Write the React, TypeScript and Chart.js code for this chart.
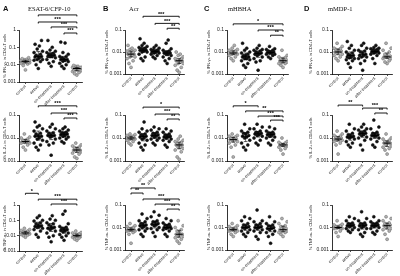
import React, { useEffect, useRef } from "react";
import { Chart, registerables } from "chart.js";
Chart.register(...registerables);
Chart.defaults.font.family = "'Liberation Sans', Arial, sans-serif";

// ---------- labels ----------
const groupLabels = ["control", "active", "on-treatment", "after-treatment", "control"];
const controlGroups = [0, 4];
const antigenTitles = ["ESAT-6/CFP-10", "Acr", "mHBHA", "mMDP-1"];
const panelLetters = ["A", "B", "C", "D"];
const cytokineAxisTitles = ["% IFN-γ+ in CD4+T cells", "% IL-2+ in CD4+T cells", "% TNF-α+ in CD4+T cells"];
const yTickValues = [0.001, 0.01, 0.1, 1];
const yTickLabels = ["0.001", "0.01", "0.1", "1"];
const yMinAll = 0.001;
const yMaxByRow = [
  [1, 0.1, 0.1, 0.1],
  [0.1, 0.1, 0.1, 0.1],
  [1, 0.1, 0.1, 0.1],
];

// ---------- data (% positive cells), one list per group ----------
const ifnEsat = [
  [0.015, 0.018, 0.012, 0.02, 0.016, 0.013, 0.022, 0.017, 0.011, 0.014, 0.019, 0.009, 0.016, 0.025, 0.013, 0.005, 0.015, 0.018],
  [0.03, 0.05, 0.02, 0.12, 0.25, 0.04, 0.025, 0.08, 0.015, 0.03, 0.01, 0.006, 0.035, 0.06, 0.02, 0.028, 0.15, 0.018],
  [0.035, 0.05, 0.03, 0.25, 0.1, 0.04, 0.02, 0.07, 0.015, 0.03, 0.012, 0.045, 0.03, 0.06, 0.025, 0.038, 0.008],
  [0.02, 0.03, 0.015, 0.18, 0.2, 0.025, 0.012, 0.05, 0.01, 0.02, 0.008, 0.006, 0.03, 0.018, 0.022, 0.04, 0.016],
  [0.006, 0.005, 0.008, 0.004, 0.007, 0.006, 0.005, 0.009, 0.003, 0.006, 0.0045, 0.007, 0.0035, 0.005, 0.008, 0.006, 0.0025],
];
const ifnAcr = [
  [0.008, 0.01, 0.006, 0.015, 0.02, 0.009, 0.005, 0.012, 0.007, 0.004, 0.008, 0.011, 0.003, 0.006, 0.009, 0.013, 0.002],
  [0.012, 0.015, 0.01, 0.04, 0.02, 0.013, 0.008, 0.025, 0.006, 0.012, 0.004, 0.016, 0.01, 0.018, 0.005, 0.014, 0.011],
  [0.01, 0.012, 0.009, 0.02, 0.015, 0.011, 0.008, 0.013, 0.007, 0.01, 0.005, 0.012, 0.009, 0.016, 0.006, 0.011],
  [0.009, 0.01, 0.008, 0.035, 0.025, 0.011, 0.006, 0.012, 0.004, 0.009, 0.003, 0.01, 0.008, 0.014, 0.005, 0.007],
  [0.004, 0.005, 0.003, 0.01, 0.006, 0.004, 0.0025, 0.005, 0.002, 0.004, 0.0015, 0.007, 0.003, 0.0045, 0.0012, 0.0035, 0.008],
];
const ifnHbha = [
  [0.009, 0.011, 0.008, 0.015, 0.02, 0.01, 0.007, 0.012, 0.006, 0.009, 0.005, 0.013, 0.008, 0.01, 0.009, 0.004],
  [0.006, 0.008, 0.005, 0.025, 0.012, 0.007, 0.004, 0.01, 0.003, 0.006, 0.002, 0.015, 0.0045, 0.009, 0.0025, 0.007, 0.005],
  [0.008, 0.01, 0.007, 0.02, 0.015, 0.009, 0.005, 0.012, 0.004, 0.008, 0.0015, 0.011, 0.006, 0.013, 0.0035, 0.009],
  [0.009, 0.011, 0.008, 0.018, 0.014, 0.01, 0.007, 0.012, 0.006, 0.009, 0.005, 0.013, 0.008, 0.01, 0.0095],
  [0.004, 0.005, 0.0035, 0.012, 0.006, 0.0045, 0.003, 0.005, 0.0025, 0.004, 0.002, 0.007, 0.0035, 0.0055, 0.003],
];
const ifnMdp = [
  [0.01, 0.012, 0.008, 0.025, 0.015, 0.011, 0.006, 0.013, 0.005, 0.009, 0.004, 0.018, 0.007, 0.01, 0.014],
  [0.006, 0.008, 0.005, 0.03, 0.015, 0.007, 0.004, 0.01, 0.003, 0.006, 0.002, 0.012, 0.0045, 0.009, 0.0055, 0.007, 0.02],
  [0.007, 0.009, 0.006, 0.025, 0.012, 0.008, 0.004, 0.011, 0.003, 0.007, 0.0015, 0.015, 0.005, 0.01, 0.006, 0.02],
  [0.01, 0.012, 0.009, 0.02, 0.015, 0.011, 0.007, 0.013, 0.005, 0.01, 0.003, 0.014, 0.008, 0.016, 0.011, 0.009],
  [0.006, 0.007, 0.005, 0.025, 0.012, 0.006, 0.004, 0.008, 0.0035, 0.006, 0.003, 0.01, 0.005, 0.0065, 0.015],
];
const il2Esat = [
  [0.007, 0.008, 0.006, 0.015, 0.01, 0.007, 0.005, 0.009, 0.004, 0.007, 0.003, 0.008, 0.006, 0.011, 0.0065],
  [0.012, 0.015, 0.01, 0.05, 0.03, 0.013, 0.006, 0.02, 0.004, 0.012, 0.003, 0.025, 0.008, 0.016, 0.005, 0.035, 0.009],
  [0.013, 0.016, 0.011, 0.04, 0.025, 0.014, 0.007, 0.02, 0.005, 0.013, 0.0018, 0.03, 0.009, 0.017, 0.006, 0.012],
  [0.014, 0.016, 0.012, 0.03, 0.02, 0.015, 0.009, 0.018, 0.007, 0.013, 0.006, 0.022, 0.01, 0.017, 0.011, 0.025],
  [0.003, 0.0035, 0.0025, 0.006, 0.005, 0.003, 0.002, 0.004, 0.0015, 0.003, 0.0013, 0.0045, 0.0028, 0.0038, 0.0022],
];
const il2Acr = [
  [0.01, 0.011, 0.009, 0.015, 0.013, 0.01, 0.007, 0.012, 0.006, 0.009, 0.005, 0.011, 0.008, 0.014, 0.0095],
  [0.012, 0.014, 0.01, 0.05, 0.025, 0.013, 0.006, 0.018, 0.004, 0.011, 0.003, 0.02, 0.008, 0.015, 0.005, 0.009],
  [0.013, 0.015, 0.011, 0.03, 0.022, 0.014, 0.008, 0.018, 0.006, 0.012, 0.005, 0.025, 0.01, 0.016, 0.009],
  [0.011, 0.013, 0.01, 0.025, 0.02, 0.012, 0.007, 0.015, 0.005, 0.011, 0.004, 0.018, 0.009, 0.014, 0.008],
  [0.005, 0.006, 0.004, 0.012, 0.008, 0.005, 0.003, 0.007, 0.0025, 0.005, 0.0015, 0.009, 0.004, 0.0065, 0.0035, 0.0012],
];
const il2Hbha = [
  [0.008, 0.01, 0.007, 0.015, 0.012, 0.009, 0.005, 0.011, 0.004, 0.008, 0.0015, 0.013, 0.006, 0.01, 0.0085],
  [0.012, 0.015, 0.01, 0.04, 0.02, 0.013, 0.006, 0.018, 0.004, 0.011, 0.003, 0.025, 0.008, 0.016, 0.005],
  [0.015, 0.018, 0.013, 0.04, 0.025, 0.016, 0.008, 0.02, 0.006, 0.014, 0.005, 0.03, 0.01, 0.017, 0.012],
  [0.014, 0.016, 0.012, 0.03, 0.02, 0.015, 0.008, 0.018, 0.006, 0.013, 0.005, 0.025, 0.01, 0.017, 0.011],
  [0.005, 0.0055, 0.0045, 0.01, 0.007, 0.005, 0.004, 0.006, 0.003, 0.005, 0.002, 0.0065, 0.0048, 0.0052, 0.0035],
];
const il2Mdp = [
  [0.009, 0.011, 0.008, 0.02, 0.015, 0.01, 0.006, 0.012, 0.005, 0.009, 0.002, 0.013, 0.007, 0.01, 0.008],
  [0.011, 0.013, 0.01, 0.04, 0.02, 0.012, 0.007, 0.016, 0.005, 0.011, 0.004, 0.025, 0.009, 0.014, 0.006],
  [0.015, 0.018, 0.013, 0.04, 0.025, 0.016, 0.008, 0.02, 0.005, 0.014, 0.003, 0.03, 0.01, 0.017, 0.011, 0.022],
  [0.013, 0.015, 0.012, 0.06, 0.03, 0.014, 0.007, 0.018, 0.005, 0.012, 0.004, 0.025, 0.009, 0.016, 0.01],
  [0.006, 0.007, 0.005, 0.015, 0.01, 0.006, 0.004, 0.008, 0.003, 0.006, 0.002, 0.009, 0.0045, 0.0065, 0.0035],
];
const tnfEsat = [
  [0.015, 0.018, 0.013, 0.03, 0.022, 0.016, 0.01, 0.02, 0.008, 0.014, 0.012, 0.025, 0.017, 0.015, 0.011],
  [0.04, 0.05, 0.035, 0.2, 0.1, 0.045, 0.02, 0.07, 0.012, 0.04, 0.008, 0.15, 0.03, 0.06, 0.025, 0.09],
  [0.03, 0.04, 0.025, 0.2, 0.1, 0.035, 0.015, 0.06, 0.01, 0.03, 0.004, 0.12, 0.02, 0.05, 0.008, 0.07],
  [0.025, 0.03, 0.02, 0.4, 0.25, 0.028, 0.012, 0.04, 0.008, 0.022, 0.005, 0.06, 0.015, 0.035, 0.018, 0.01],
  [0.01, 0.012, 0.009, 0.02, 0.015, 0.011, 0.007, 0.013, 0.006, 0.01, 0.005, 0.016, 0.008, 0.012, 0.009],
];
const tnfAcr = [
  [0.008, 0.009, 0.007, 0.015, 0.012, 0.008, 0.006, 0.01, 0.005, 0.008, 0.002, 0.011, 0.007, 0.009, 0.0075],
  [0.012, 0.014, 0.01, 0.04, 0.025, 0.013, 0.007, 0.018, 0.005, 0.011, 0.004, 0.02, 0.009, 0.015, 0.008],
  [0.014, 0.017, 0.012, 0.05, 0.03, 0.015, 0.008, 0.02, 0.006, 0.013, 0.004, 0.035, 0.01, 0.018, 0.009],
  [0.01, 0.012, 0.009, 0.025, 0.02, 0.011, 0.007, 0.014, 0.005, 0.01, 0.004, 0.016, 0.008, 0.013, 0.009],
  [0.005, 0.006, 0.004, 0.02, 0.01, 0.005, 0.003, 0.007, 0.0025, 0.005, 0.002, 0.012, 0.004, 0.008, 0.0035],
];
const tnfHbha = [
  [0.008, 0.009, 0.007, 0.015, 0.012, 0.008, 0.006, 0.01, 0.005, 0.008, 0.004, 0.011, 0.007, 0.009, 0.0085],
  [0.01, 0.012, 0.009, 0.03, 0.02, 0.011, 0.006, 0.015, 0.004, 0.01, 0.005, 0.025, 0.008, 0.013, 0.007],
  [0.01, 0.012, 0.009, 0.06, 0.02, 0.011, 0.006, 0.015, 0.004, 0.01, 0.003, 0.018, 0.008, 0.013, 0.007],
  [0.009, 0.011, 0.008, 0.03, 0.018, 0.01, 0.006, 0.013, 0.004, 0.009, 0.002, 0.015, 0.007, 0.012, 0.005],
  [0.008, 0.01, 0.007, 0.025, 0.015, 0.009, 0.006, 0.012, 0.005, 0.008, 0.004, 0.018, 0.007, 0.011, 0.006],
];
const tnfMdp = [
  [0.01, 0.011, 0.009, 0.02, 0.014, 0.01, 0.007, 0.012, 0.006, 0.01, 0.004, 0.013, 0.009, 0.011, 0.0095],
  [0.012, 0.014, 0.011, 0.03, 0.02, 0.013, 0.008, 0.016, 0.006, 0.012, 0.007, 0.025, 0.01, 0.015, 0.009],
  [0.012, 0.014, 0.01, 0.05, 0.025, 0.013, 0.006, 0.016, 0.005, 0.011, 0.004, 0.02, 0.009, 0.015, 0.008],
  [0.012, 0.014, 0.011, 0.03, 0.02, 0.013, 0.007, 0.016, 0.005, 0.012, 0.006, 0.018, 0.01, 0.015, 0.009],
  [0.012, 0.014, 0.01, 0.03, 0.02, 0.013, 0.007, 0.016, 0.005, 0.011, 0.003, 0.025, 0.009, 0.015, 0.008],
];

// significance brackets: [fromGroup, toGroup, heightInAxisUnits, label]
const bracketsIfnEsat = [[1, 4, 7.4, "**"], [1, 4, 2.9, "***"], [2, 4, 1.5, "***"], [3, 4, 0.67, "***"]];
const bracketsIfnAcr = [[1, 4, 0.42, "***"], [2, 4, 0.2, "***"], [3, 4, 0.12, "**"]];
const bracketsIfnHbha = [[0, 4, 0.19, "*"], [2, 4, 0.1, "***"], [3, 4, 0.058, "**"]];
const bracketsIfnMdp: any[] = [];
const bracketsIl2Esat = [[1, 4, 0.25, "***"], [2, 4, 0.122, "***"], [3, 4, 0.074, "***"]];
const bracketsIl2Acr = [[1, 4, 0.22, "*"], [2, 4, 0.11, "***"], [3, 4, 0.067, "**"]];
const bracketsIl2Hbha = [[0, 2, 0.25, "*"], [1, 4, 0.15, "**"], [2, 4, 0.09, "***"], [3, 4, 0.06, "***"]];
const bracketsIl2Mdp = [[0, 2, 0.27, "**"], [2, 4, 0.2, "***"], [3, 4, 0.122, "**"]];
const bracketsTnfEsat = [[0, 1, 5.8, "*"], [1, 4, 2.4, "***"], [2, 4, 1.16, "***"]];
const bracketsTnfAcr = [[0, 2, 0.57, "**"], [0, 1, 0.34, "**"], [1, 4, 0.185, "***"], [2, 4, 0.11, "***"], [3, 4, 0.066, "**"]];
const bracketsTnfHbha: any[] = [];
const bracketsTnfMdp: any[] = [];

const seriesGrid = [
  [ifnEsat, ifnAcr, ifnHbha, ifnMdp],
  [il2Esat, il2Acr, il2Hbha, il2Mdp],
  [tnfEsat, tnfAcr, tnfHbha, tnfMdp],
];
const bracketGrid = [
  [bracketsIfnEsat, bracketsIfnAcr, bracketsIfnHbha, bracketsIfnMdp],
  [bracketsIl2Esat, bracketsIl2Acr, bracketsIl2Hbha, bracketsIl2Mdp],
  [bracketsTnfEsat, bracketsTnfAcr, bracketsTnfHbha, bracketsTnfMdp],
];

// ---------- layout (pixels) ----------
const colCanvasLeft = [0, 102, 204, 306];
const colCanvasWidth = [100, 100, 100, 94];
const colPlotLeft = [19, 125, 227, 332];
const colPlotRight = [82, 184, 288, 392];
const rowCanvasTop = [0, 92, 178];
const rowCanvasHeight = [108, 98, 98];
const rowPlotTop = [30, 115, 205];
const plotBottom = (r: number, c: number) => (r === 0 ? (c === 0 ? 82 : 74) : r === 1 ? 161 : c === 0 ? 251 : 250);
const letterLeft = [3, 103, 204, 304];
const titleLeft = [28, 129, 228, 328];
const jitter = [0, -0.17, 0.17, -0.33, 0.33, -0.085, 0.085, -0.25, 0.25];

const overlayPlugin = {
  id: "overlay",
  afterDatasetsDraw(chart: any, _a: any, opts: any) {
    const { ctx } = chart;
    const xs = chart.scales.x;
    const ys = chart.scales.y;
    const series: number[][] = opts.series;
    ctx.save();
    ctx.strokeStyle = "#000";
    series.forEach((vals, g) => {
      const s = [...vals].sort((a, b) => a - b);
      const q = (p: number) => {
        const idx = (s.length - 1) * p;
        const lo = Math.floor(idx);
        const hi = Math.ceil(idx);
        return s[lo] + (s[hi] - s[lo]) * (idx - lo);
      };
      const xc = xs.getPixelForValue(g);
      const w = xs.getPixelForValue(g + 0.3) - xc;
      const ym = ys.getPixelForValue(q(0.5));
      const y1 = ys.getPixelForValue(q(0.25));
      const y3 = ys.getPixelForValue(q(0.75));
      ctx.lineWidth = 1;
      ctx.beginPath();
      ctx.moveTo(xc - w, ym);
      ctx.lineTo(xc + w, ym);
      ctx.stroke();
      ctx.lineWidth = 0.6;
      ctx.beginPath();
      ctx.moveTo(xc, y1);
      ctx.lineTo(xc, y3);
      ctx.moveTo(xc - w / 2, y1);
      ctx.lineTo(xc + w / 2, y1);
      ctx.moveTo(xc - w / 2, y3);
      ctx.lineTo(xc + w / 2, y3);
      ctx.stroke();
    });
    const brackets: any[] = opts.brackets;
    ctx.lineWidth = 0.9;
    ctx.fillStyle = "#000";
    ctx.font = "bold 5.5px 'Liberation Sans', Arial, sans-serif";
    ctx.textAlign = "center";
    ctx.textBaseline = "bottom";
    brackets.forEach(([from, to, h, label]) => {
      const x1 = xs.getPixelForValue(from);
      const x2 = xs.getPixelForValue(to);
      const y = ys.getPixelForValue(h);
      ctx.beginPath();
      ctx.moveTo(x1, y + 1.5);
      ctx.lineTo(x1, y);
      ctx.lineTo(x2, y);
      ctx.lineTo(x2, y + 1.5);
      ctx.stroke();
      ctx.fillText(label, (x1 + x2) / 2, y + 0.5);
    });
    ctx.restore();
  },
};

function Panel({ r, c }: { r: number; c: number }) {
  const ref = useRef<HTMLCanvasElement>(null);
  const left = colCanvasLeft[c];
  const top = rowCanvasTop[r];
  const width = colCanvasWidth[c];
  const height = rowCanvasHeight[r];
  useEffect(() => {
    const series = seriesGrid[r][c];
    const yW = colPlotLeft[c] - left;
    const xH = top + height - plotBottom(r, c);
    const padTop = rowPlotTop[r] - top;
    const padRight = left + width - colPlotRight[c];
    const datasets = series.map((vals, g) => {
      const sorted = [...vals].sort((a, b) => a - b);
      const ctrl = controlGroups.includes(g);
      return {
        data: sorted.map((v, i) => ({ x: g + jitter[i % jitter.length], y: v })),
        pointRadius: 1.5,
        pointBackgroundColor: ctrl ? "#b0b0b0" : "#111",
        pointBorderColor: ctrl ? "#666" : "#111",
        pointBorderWidth: 0.5,
        showLine: false,
      };
    });
    const chart = new Chart(ref.current as HTMLCanvasElement, {
      type: "scatter",
      data: { datasets },
      plugins: [overlayPlugin],
      options: {
        animation: false,
        responsive: false,
        devicePixelRatio: 1,
        layout: { padding: { top: padTop, right: padRight, left: 0, bottom: 0 } },
        plugins: {
          legend: { display: false },
          tooltip: { enabled: false },
          overlay: { series, brackets: bracketGrid[r][c] },
        } as any,
        scales: {
          x: {
            type: "linear",
            min: -0.5,
            max: 4.4,
            afterBuildTicks: (s: any) => {
              s.ticks = groupLabels.map((_, i) => ({ value: i }));
            },
            afterFit: (s: any) => {
              s.height = xH;
            },
            ticks: {
              autoSkip: false,
              minRotation: 45,
              maxRotation: 45,
              padding: 0,
              color: "#222",
              font: { size: 4.2 },
              callback: (v: any) => groupLabels[v as number] ?? "",
            },
            grid: { display: true, drawOnChartArea: false, drawTicks: true, tickLength: 2, color: "#000", lineWidth: 0.7 },
            border: { display: true, color: "#000", width: 0.8 },
          },
          y: {
            type: "logarithmic",
            min: yMinAll,
            max: yMaxByRow[r][c],
            afterBuildTicks: (s: any) => {
              s.ticks = yTickValues.filter((v) => v <= yMaxByRow[r][c]).map((v) => ({ value: v, major: true }));
            },
            afterFit: (s: any) => {
              s.width = yW;
            },
            ticks: {
              padding: 1,
              color: "#222",
              font: { size: 5 },
              callback: (v: any) => yTickLabels[yTickValues.indexOf(v as number)] ?? "",
            },
            title: {
              display: true,
              text: cytokineAxisTitles[r],
              color: "#222",
              font: { size: 4 },
              padding: { top: 2.5, bottom: 0 },
            },
            grid: { display: true, drawOnChartArea: false, drawTicks: true, tickLength: 2, color: "#000", lineWidth: 0.7 },
            border: { display: true, color: "#000", width: 0.8 },
          },
        },
      },
    } as any);
    return () => chart.destroy();
  }, []);
  return (
    <canvas
      ref={ref}
      width={width}
      height={height}
      style={{ position: "absolute", left, top, width, height }}
    />
  );
}

export default function App() {
  const cells: { r: number; c: number }[] = [];
  for (let r = 0; r < 3; r++) for (let c = 0; c < 4; c++) cells.push({ r, c });
  return (
    <div style={{ position: "fixed", left: 0, top: 0, width: 400, height: 276, background: "#fff", overflow: "hidden" }}>
      {cells.map(({ r, c }) => (
        <Panel key={r + "-" + c} r={r} c={c} />
      ))}
      {panelLetters.map((l, c) => (
        <span
          key={"l" + c}
          style={{ position: "absolute", left: letterLeft[c], top: 5, fontFamily: "'Liberation Sans', Arial, sans-serif", fontWeight: "bold", fontSize: 7.5, lineHeight: "8px", color: "#111" }}
        >
          {l}
        </span>
      ))}
      {antigenTitles.map((t, c) => (
        <span
          key={"t" + c}
          style={{ position: "absolute", left: titleLeft[c], top: 5, fontFamily: "'Liberation Serif', 'Times New Roman', serif", fontSize: 6.5, lineHeight: "8px", color: "#111", whiteSpace: "nowrap", background: "#fff" }}
        >
          {t}
        </span>
      ))}
    </div>
  );
}
